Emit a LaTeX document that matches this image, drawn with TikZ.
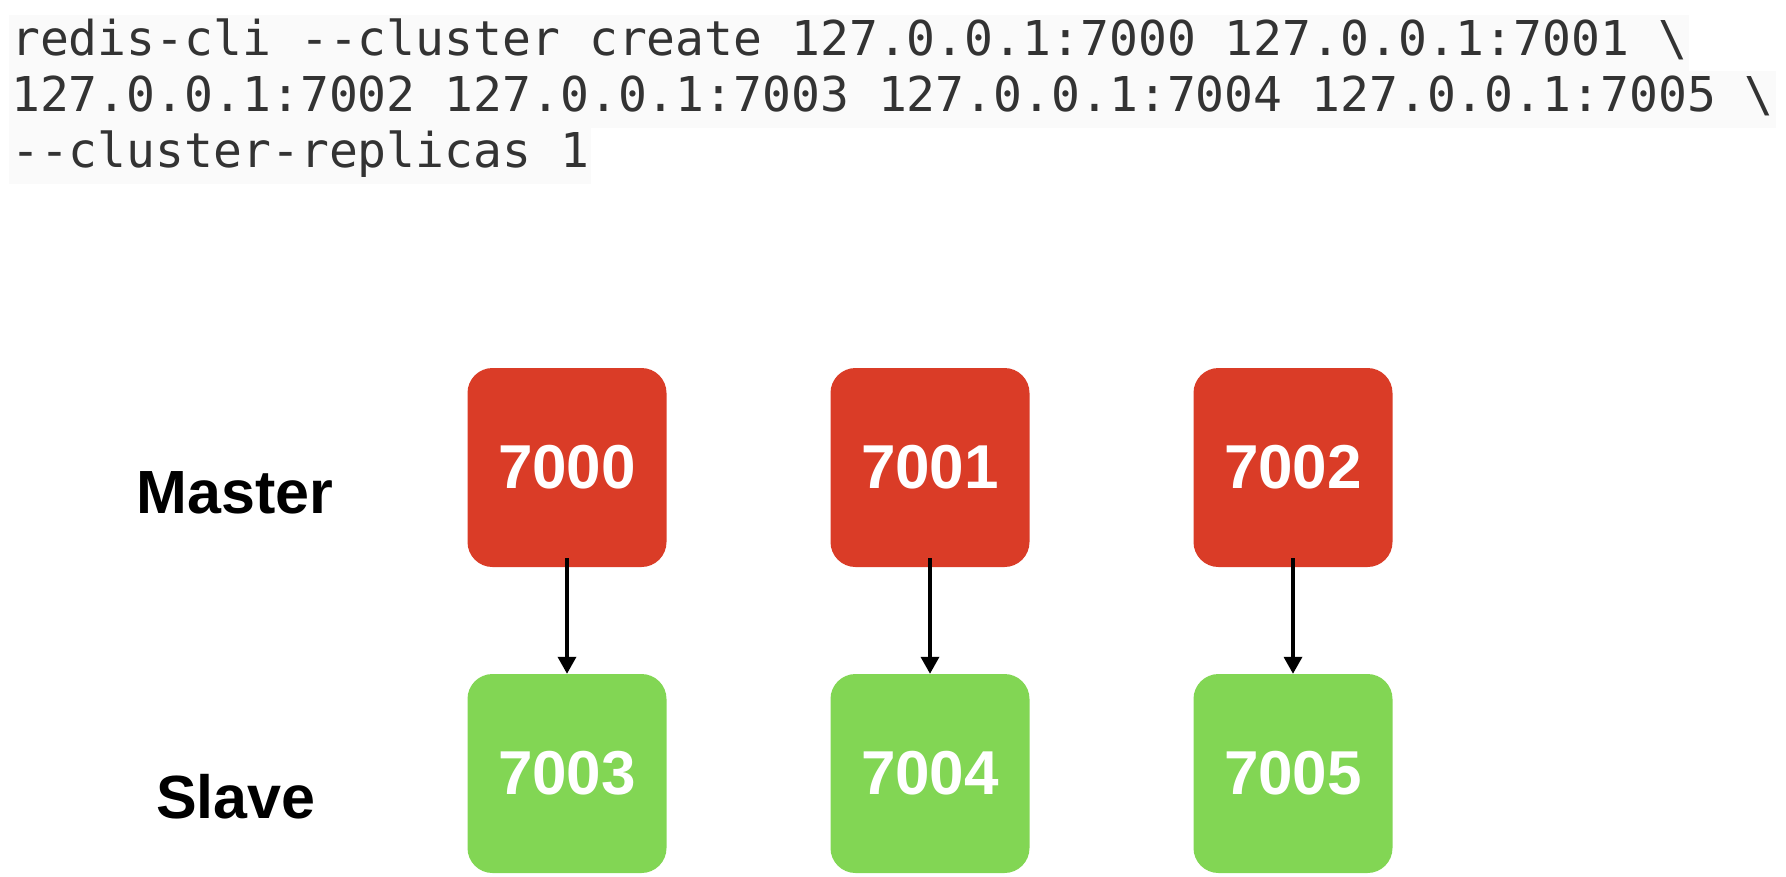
\documentclass[tikz,border=0pt]{standalone}
\usepackage{fontspec}
\setmainfont{Liberation Sans}
\newfontfamily\cmdfont{DejaVu Sans Mono}
\usetikzlibrary{arrows.meta}
\definecolor{masterred}{HTML}{DA3C27}
\definecolor{slavegreen}{HTML}{82D654}
\definecolor{cmdgray}{HTML}{333333}
\definecolor{cmdback}{HTML}{FAFAFA}
\begin{document}
\begin{tikzpicture}[x=1pt,y=1pt,line join=round,>={Triangle[width=18pt,length=17pt]}]
	\tikzset{box/.style={minimum size=199pt,rounded corners=25pt,inner sep=0pt,text=white,font=\fontsize{62}{62}\selectfont\bfseries},
		role/.style={anchor=base,inner sep=0pt,font=\fontsize{61}{61}\selectfont\bfseries},
		cmd/.style={anchor=base west,inner xsep=2pt,inner ysep=0pt,text height=40pt,text depth=17pt,fill=cmdback,text=cmdgray,font=\fontsize{48}{48}\cmdfont}}
	\useasboundingbox (0,0) rectangle (1786,-876);
	% command line
	\node[cmd] (cmd1) at (9,-55) {redis-cli -{}-cluster create 127.0.0.1:7000 127.0.0.1:7001 \textbackslash};
	\node[cmd] (cmd2) at (9,-111) {127.0.0.1:7002 127.0.0.1:7003 127.0.0.1:7004 127.0.0.1:7005 \textbackslash};
	\node[cmd] (cmd3) at (9,-167) {-{}-cluster-replicas 1};
	% roles
	\node[role] (master) at (235,-513) {Master};
	\node[role] (slave) at (236,-818) {Slave};
	% nodes
	\foreach \i/\m/\s in {0/7000/7003,1/7001/7004,2/7002/7005}{
		\node[box,fill=masterred] (m\i) at (567+363*\i,-467.5) {\m};
		\node[box,fill=slavegreen] (s\i) at (567+363*\i,-773.5) {\s};
		\draw[->,line width=3.5pt] ([yshift=9pt]m\i.south) -- (s\i.north);
	}
\end{tikzpicture}
\end{document}
